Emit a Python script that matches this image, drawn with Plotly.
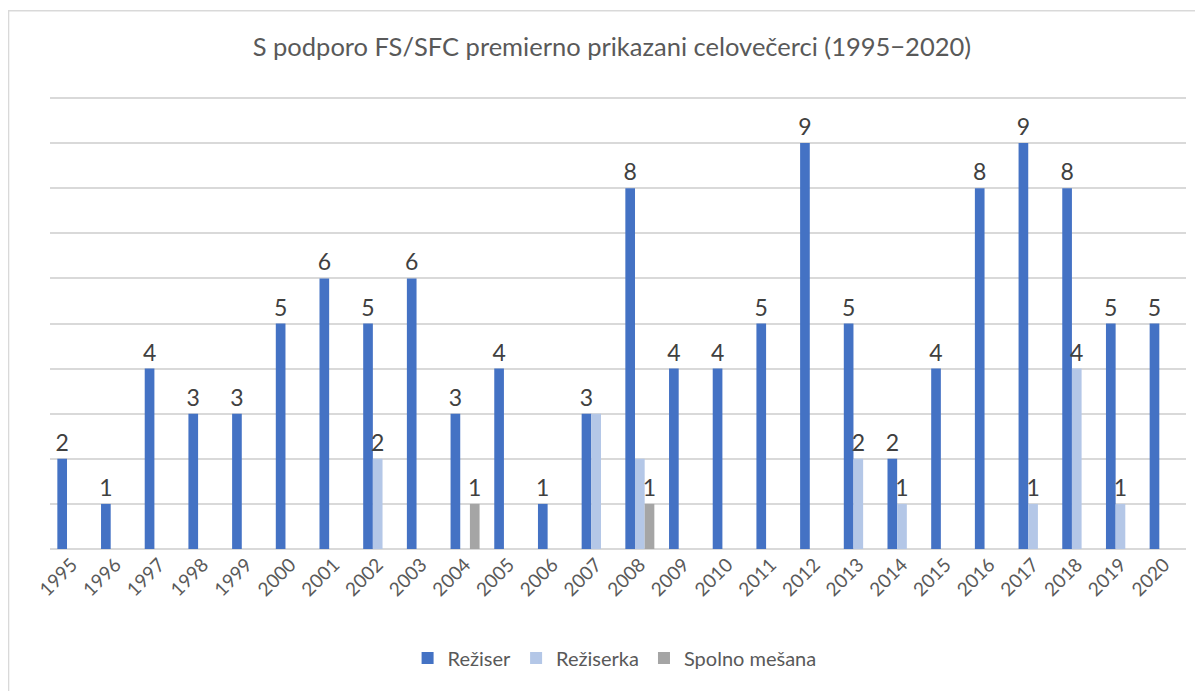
import plotly.graph_objects as go

years = [str(y) for y in range(1995, 2021)]
reziser = [2, 1, 4, 3, 3, 5, 6, 5, 6, 3, 4, 1, 3, 8, 4, 4, 5, 9, 5, 2, 4, 8, 9, 8, 5, 5]
reziserka = [0, 0, 0, 0, 0, 0, 0, 2, 0, 0, 0, 0, 3, 2, 0, 0, 0, 0, 2, 1, 0, 0, 1, 4, 1, 0]
spolno = [0, 0, 0, 0, 0, 0, 0, 0, 0, 1, 0, 0, 0, 1, 0, 0, 0, 0, 0, 0, 0, 0, 0, 0, 0, 0]
# labels hidden in the original for overlapping Režiserka values (2007, 2008)
reziserka_hidden = ["2007", "2008"]

FONT = "Lato"
LABEL_COLOR = "#404040"
AXIS_COLOR = "#595959"

def labels(vals, hidden=()):
    return [("" if (v == 0 or y in hidden) else str(v)) for y, v in zip(years, vals)]

fig = go.Figure()
fig.add_bar(name="Režiser", x=years, y=reziser, marker_color="#4472C4",
            text=labels(reziser), textposition="outside")
fig.add_bar(name="Režiserka", x=years, y=reziserka, marker_color="#B4C7E7",
            text=labels(reziserka, reziserka_hidden), textposition="outside")
fig.add_bar(name="Spolno mešana", x=years, y=spolno, marker_color="#A5A5A5",
            text=labels(spolno), textposition="outside")
fig.update_traces(textfont=dict(family=FONT, size=23, color=LABEL_COLOR),
                  constraintext="none", cliponaxis=False, marker_line_width=0)

fig.update_layout(
    width=1203, height=691,
    margin=dict(l=42, r=25, t=81, b=150, autoexpand=False),
    paper_bgcolor="white", plot_bgcolor="white",
    barmode="group", bargap=0.336, bargroupgap=0,
    title=dict(text="S podporo FS/SFC premierno prikazani celovečerci (1995−2020)",
               x=0.502, xanchor="center", y=0.9436, yanchor="middle",
               font=dict(family=FONT, size=25.5, color=AXIS_COLOR)),
    font=dict(family=FONT, color=AXIS_COLOR),
    xaxis=dict(type="category", tickangle=-45, tickfont=dict(size=19, color=AXIS_COLOR),
               showgrid=False, showline=False, ticks=""),
    yaxis=dict(range=[0, 10.2], dtick=1, showticklabels=False, showgrid=True,
               gridcolor="#D9D9D9", gridwidth=1.5, zeroline=True,
               zerolinecolor="#D9D9D9", zerolinewidth=1.5),
    legend=dict(orientation="h", x=0.497, xanchor="center", y=-0.237, yanchor="middle",
                font=dict(size=20, color=AXIS_COLOR), itemwidth=30),
    shapes=[dict(type="rect", xref="paper", yref="paper",
                 x0=-0.0365, x1=1.03, y0=-0.35, y1=1.17,
                 line=dict(color="#D9D9D9", width=1.5), fillcolor="rgba(0,0,0,0)")],
)

fig.write_html("out.html")
